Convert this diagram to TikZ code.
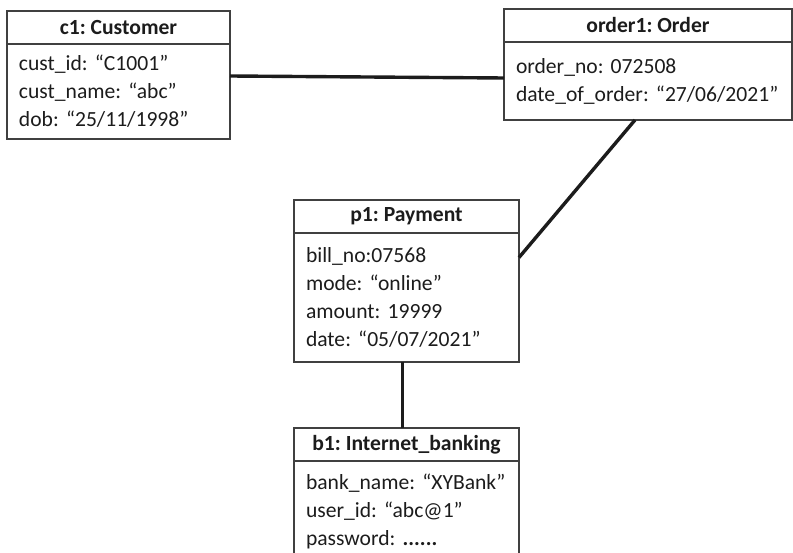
\documentclass[tikz,border=0pt]{standalone}
\usepackage{fontspec}
\setmainfont{Carlito}
\usepackage{xcolor}
\usepackage{tikz}
\usetikzlibrary{positioning, calc}
\definecolor{boxline}{HTML}{404040}
\definecolor{inkcol}{HTML}{1C1C1C}
\frenchspacing

\begin{document}
\begin{tikzpicture}[
    x=1pt, y=1pt,
    font=\fontsize{21.6}{28}\selectfont,
    text=inkcol,
    objhead/.style={rectangle, draw=boxline, line width=1.3pt, outer sep=0pt, inner sep=0pt,
        minimum width=#1, minimum height=33pt, font=\fontsize{21.6}{28}\selectfont\bfseries},
    objbody/.style={rectangle, draw=boxline, line width=1.3pt, outer sep=0pt, inner xsep=12pt,
        inner ysep=0pt, text width=#1, align=left},
    link/.style={line width=3.4pt, draw=inkcol}
]
\useasboundingbox (0,0) rectangle (793,-553);
\clip (0,0) rectangle (793,-553);

% customer object
\node[objhead=223pt, anchor=north west] (c1head) at (7,-11) {c1: Customer};
\node[objbody=199pt, minimum height=95pt, below=0pt of c1head] (c1body)
    {cust\_id: “C1001”\\cust\_name: “abc”\\dob: “25/11/1998”};

% order object
\node[objhead=288pt, anchor=north west] (order1head) at (504,-9) {order1: Order};
\node[objbody=264pt, minimum height=78pt, below=0pt of order1head] (order1body)
    {order\_no: 072508\\date\_of\_order: “27/06/2021”};

% payment object
\node[objhead=225pt, anchor=north west] (p1head) at (294,-200) {p1: Payment};
\node[objbody=201pt, minimum height=129pt, below=0pt of p1head] (p1body)
    {bill\_no:07568\\mode: “online”\\amount: 19999\\date: “05/07/2021”};

% internet banking object
\node[objhead=225pt, below=66pt of p1body] (b1head) {b1: Internet\_banking};
\node[objbody=201pt, minimum height=100pt, below=0pt of b1head] (b1body)
    {bank\_name: “XYBank”\\user\_id: “abc@1”\\password: \textbf{......}};

% links
\draw[link] ([yshift=15.5pt]c1body.east) -- ([yshift=3pt]order1body.west);
\draw[link] ([xshift=-13pt]order1body.south) -- ([yshift=40pt]p1body.east);
\draw[link] ([xshift=-4pt]p1body.south) -- ([xshift=-4pt]b1head.north);
\end{tikzpicture}
\end{document}
